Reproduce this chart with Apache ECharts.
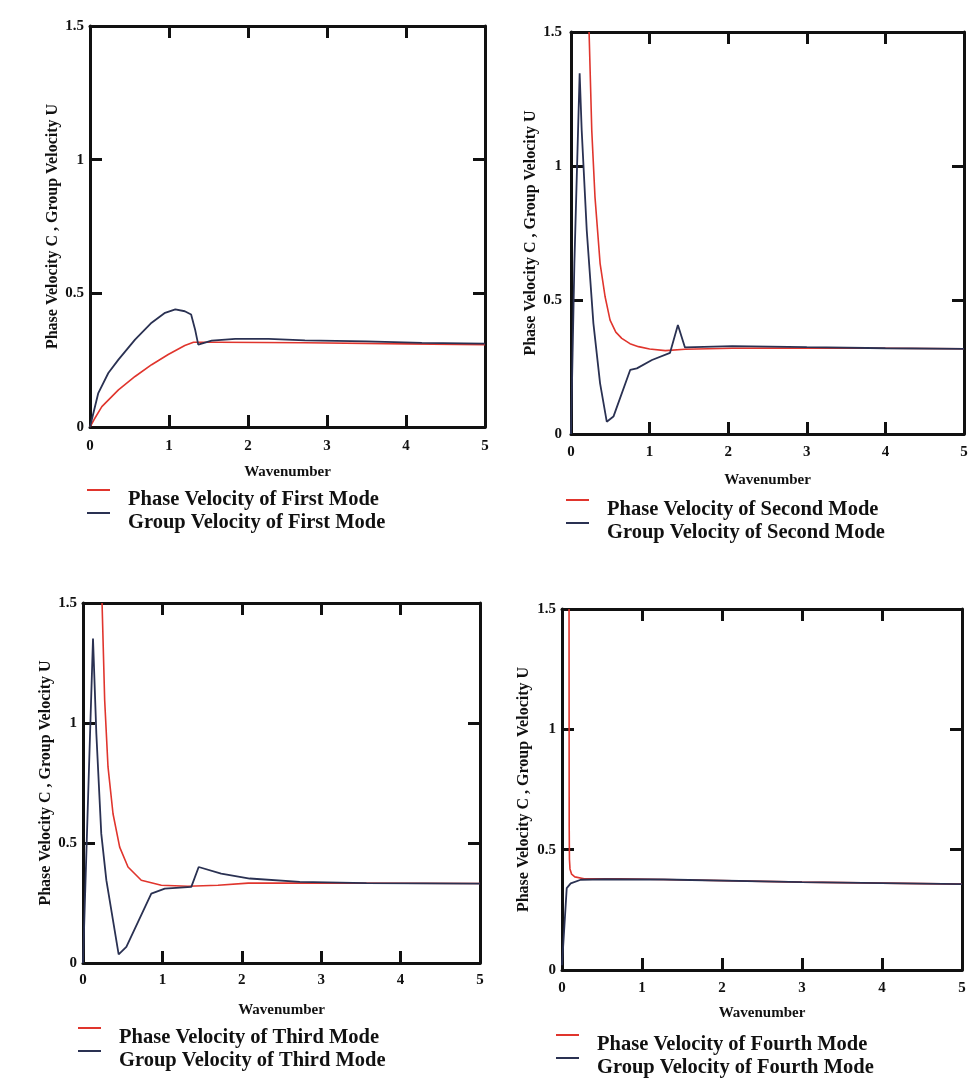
<!DOCTYPE html>
<html>
<head>
<meta charset="utf-8">
<script src="https://cdn.jsdelivr.net/npm/echarts@6/dist/echarts.min.js"></script>
<style>
html, body { margin: 0; padding: 0; background: #fff; }
#chart { width: 974px; height: 1080px; }
</style>
</head>
<body>
<div id="chart"></div>
<script>
// values (wavenumber k, velocity)
var modeNames = ['First', 'Second', 'Third', 'Fourth'];

var kPhase1 = [0, 0.05, 0.15, 0.36, 0.57, 0.78, 0.99, 1.2, 1.31, 1.62, 2.72, 4, 5];
var cPhase1 = [0, 0.027, 0.076, 0.139, 0.189, 0.233, 0.271, 0.305, 0.317, 0.317, 0.315, 0.311, 0.308];
var kGroup1 = [0, 0.105, 0.232, 0.36, 0.57, 0.78, 0.95, 1.08, 1.2, 1.28, 1.33, 1.37, 1.54, 1.84, 2.26, 2.72, 3.5, 4.2, 5];
var uGroup1 = [0, 0.127, 0.202, 0.252, 0.327, 0.39, 0.427, 0.44, 0.433, 0.421, 0.365, 0.308, 0.323, 0.33, 0.33, 0.324, 0.32, 0.315, 0.312];

var kPhase2 = [0.23, 0.264, 0.305, 0.37, 0.434, 0.497, 0.57, 0.646, 0.75, 0.859, 1.0, 1.2, 1.45, 2.05, 3, 4, 5];
var cPhase2 = [1.5, 1.134, 0.885, 0.637, 0.512, 0.425, 0.38, 0.357, 0.337, 0.326, 0.317, 0.311, 0.316, 0.32, 0.321, 0.32, 0.318];
var kGroup2 = [0, 0.043, 0.11, 0.136, 0.2, 0.285, 0.37, 0.455, 0.54, 0.753, 0.838, 1.03, 1.26, 1.36, 1.45, 2.05, 3, 4, 5];
var uGroup2 = [0, 0.637, 1.346, 1.134, 0.761, 0.413, 0.189, 0.046, 0.065, 0.239, 0.245, 0.276, 0.303, 0.407, 0.323, 0.328, 0.324, 0.32, 0.318];

var kPhase3 = [0.24, 0.273, 0.315, 0.378, 0.462, 0.567, 0.734, 0.986, 1.32, 1.7, 2.08, 3, 4, 5];
var cPhase3 = [1.5, 1.095, 0.817, 0.622, 0.483, 0.4, 0.345, 0.324, 0.32, 0.324, 0.333, 0.333, 0.332, 0.331];
var kGroup3 = [0, 0.063, 0.126, 0.168, 0.23, 0.294, 0.378, 0.449, 0.546, 0.86, 1.03, 1.364, 1.457, 1.74, 2.1, 2.73, 3.57, 5];
var uGroup3 = [0, 0.678, 1.352, 0.956, 0.539, 0.345, 0.178, 0.036, 0.067, 0.289, 0.31, 0.317, 0.4, 0.372, 0.352, 0.338, 0.333, 0.331];

var kPhase4 = [0.088, 0.089, 0.09, 0.093, 0.1, 0.12, 0.16, 0.276, 0.73, 1.27, 3, 5];
var cPhase4 = [1.5, 1.0, 0.6, 0.46, 0.42, 0.398, 0.387, 0.379, 0.379, 0.376, 0.365, 0.357];
var kGroup4 = [0, 0.059, 0.109, 0.234, 0.53, 1.27, 3, 5];
var uGroup4 = [0.02, 0.34, 0.36, 0.375, 0.377, 0.376, 0.365, 0.357];

var phaseK = [kPhase1, kPhase2, kPhase3, kPhase4];
var phaseC = [cPhase1, cPhase2, cPhase3, cPhase4];
var groupK = [kGroup1, kGroup2, kGroup3, kGroup4];
var groupU = [uGroup1, uGroup2, uGroup3, uGroup4];

// layout of the four boxes (px)
var boxes = [
    { left: 90, top: 26, width: 395, height: 401 },
    { left: 571, top: 32, width: 393, height: 402 },
    { left: 83, top: 603, width: 397, height: 360 },
    { left: 562, top: 609, width: 400, height: 361 }
];
var legendPos = [[87, 489], [566, 499], [78, 1027], [556, 1034]];
var yNameGap = [25, 32, 26, 30];
var xNameGap = [38, 39, 40, 36];
var yLabelGap = [6, 9, 6, 6];
var xLabelGap = [12, 11, 10, 11];

var FONT = '"Liberation Serif", "Times New Roman", serif';
var INK = '#111111';
var RED = '#e0352d';
var NAVY = '#2a3152';

function pairs(k, v) {
    return k.map(function (x, i) { return [x, v[i]]; });
}

var option = {
    backgroundColor: '#ffffff',
    animation: false,
    grid: [], xAxis: [], yAxis: [], series: [], legend: []
};

boxes.forEach(function (b, i) {
    option.grid.push({ left: b.left, top: b.top, width: b.width, height: b.height, outerBoundsMode: 'none', containLabel: false });

    var line = { show: true, onZero: false, lineStyle: { color: INK, width: 3 } };
    var tick = { show: true, inside: true, length: 12, lineStyle: { color: INK, width: 3 } };
    var label = { fontFamily: FONT, fontWeight: 'bold', fontSize: 15, color: INK };

    option.xAxis.push({
        type: 'value', gridIndex: i, position: 'bottom', min: 0, max: 5, interval: 1,
        axisLine: line, axisTick: tick, splitLine: { show: false },
        axisLabel: Object.assign({ margin: xLabelGap[i] }, label),
        name: 'Wavenumber', nameLocation: 'middle', nameGap: xNameGap[i],
        nameTextStyle: { fontFamily: FONT, fontWeight: 'bold', fontSize: 15, color: INK }
    });
    option.xAxis.push({
        type: 'value', gridIndex: i, position: 'top', min: 0, max: 5, interval: 1,
        axisLine: line, axisTick: tick, splitLine: { show: false }, axisLabel: { show: false }
    });
    option.yAxis.push({
        type: 'value', gridIndex: i, position: 'left', min: 0, max: 1.5, interval: 0.5,
        axisLine: line, axisTick: tick, splitLine: { show: false },
        axisLabel: Object.assign({ margin: yLabelGap[i] }, label),
        name: 'Phase Velocity C , Group Velocity U', nameLocation: 'middle', nameGap: yNameGap[i],
        nameTextStyle: { fontFamily: FONT, fontWeight: 'bold', fontSize: 16, color: INK }
    });
    option.yAxis.push({
        type: 'value', gridIndex: i, position: 'right', min: 0, max: 1.5, interval: 0.5,
        axisLine: line, axisTick: tick, splitLine: { show: false }, axisLabel: { show: false }
    });

    var phaseName = 'Phase Velocity of ' + modeNames[i] + ' Mode';
    var groupName = 'Group Velocity of ' + modeNames[i] + ' Mode';

    option.series.push({
        name: phaseName, type: 'line', xAxisIndex: 2 * i, yAxisIndex: 2 * i,
        data: pairs(phaseK[i], phaseC[i]), showSymbol: false, symbol: 'none', clip: true,
        color: RED, itemStyle: { color: RED }, lineStyle: { color: RED, width: 1.6 }
    });
    option.series.push({
        name: groupName, type: 'line', xAxisIndex: 2 * i, yAxisIndex: 2 * i,
        data: pairs(groupK[i], groupU[i]), showSymbol: false, symbol: 'none', clip: true,
        color: NAVY, itemStyle: { color: NAVY }, lineStyle: { color: NAVY, width: 1.8 }
    });

    option.legend.push({
        orient: 'vertical', left: legendPos[i][0], top: legendPos[i][1], padding: 0,
        itemGap: 1, itemWidth: 36, itemHeight: 22, selectedMode: false,
        icon: 'path://M0,0H23V2H0ZM35.9,21.9H36V22H35.9Z',
        data: [phaseName, groupName],
        textStyle: { fontFamily: FONT, fontWeight: 'bold', fontSize: 20.5, color: INK, lineHeight: 22 }
    });
});

var myChart = echarts.init(document.getElementById('chart'));
myChart.setOption(option);
window.addEventListener('resize', function () {
    myChart.resize();
});
</script>
</body>
</html>
